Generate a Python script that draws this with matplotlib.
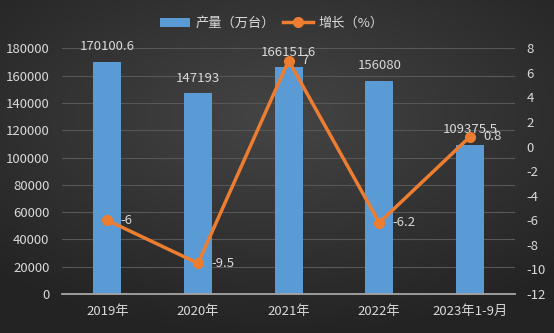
import numpy as np
import matplotlib
matplotlib.use('Agg')
from matplotlib import pyplot as plt  # noqa

plt.rcParams['font.family'] = ['Noto Sans CJK SC', 'DejaVu Sans']
plt.rcParams['axes.unicode_minus'] = False

categories = ['2019年', '2020年', '2021年', '2022年', '2023年1-9月']
output = [170100.6, 147193, 166151.6, 156080, 109375.5]
growth = [-6, -9.5, 7, -6.2, 0.8]

output_labels = ['170100.6', '147193', '166151.6', '156080', '109375.5']
growth_labels = ['-6', '-9.5', '7', '-6.2', '0.8']

TXT = '#d9d9d9'
BAR = '#5b9bd5'
LINE = '#ed7d31'

fig = plt.figure(figsize=(5.54, 3.33), dpi=100)

# dark radial background, lighter near the top middle
bg = fig.add_axes([0, 0, 1, 1], zorder=-10)
gx, gy = np.meshgrid(np.linspace(-1, 1, 200), np.linspace(-1, 1, 120))
r = np.sqrt(gx ** 2 + ((gy + 0.3) * 1.1) ** 2)
shade = np.clip(0.27 - 0.09 * r, 0.14, 0.27)
bg.imshow(np.dstack([shade] * 3), aspect='auto', extent=[0, 1, 0, 1])
bg.axis('off')

ax = fig.add_axes([0.112, 0.117, 0.818, 0.738])
ax.set_facecolor('none')

x = np.arange(len(categories))
ax.bar(x, output, width=0.31, color=BAR, zorder=2, label='产量（万台）')
ax.set_ylim(0, 180000)
ax.set_yticks(range(0, 180001, 20000))
ax.set_xlim(-0.5, len(categories) - 0.5)
ax.set_xticks(x)
ax.set_xticklabels(categories)
ax.grid(axis='y', color='#575757', linewidth=0.8, zorder=0)
for s in ['top', 'right', 'left']:
    ax.spines[s].set_visible(False)
ax.spines['bottom'].set_color('#a6a6a6')
ax.spines['bottom'].set_linewidth(1.3)
ax.tick_params(axis='both', length=0, colors=TXT, labelsize=9.5)
ax.tick_params(axis='x', pad=8)
ax.tick_params(axis='y', pad=9)

for xi, v, lab in zip(x, output, output_labels):
    ax.annotate(lab, (xi, v), xytext=(0, 15), textcoords='offset pixels',
                ha='center', va='center', color=TXT, fontsize=9.5)

ax2 = ax.twinx()
ax2.set_ylim(-12, 8)
ax2.set_yticks(range(-12, 9, 2))
ax2.plot(x, growth, color=LINE, linewidth=2.5, marker='o', markersize=7,
         zorder=3, label='增长（%）')
for s in ['top', 'right', 'left', 'bottom']:
    ax2.spines[s].set_visible(False)
ax2.tick_params(axis='y', length=0, colors=TXT, labelsize=9.5, pad=8)

for xi, v, lab in zip(x, growth, growth_labels):
    ax2.annotate(lab, (xi, v), xytext=(13, 0), textcoords='offset pixels',
                 ha='left', va='center', color=TXT, fontsize=9.5)

h1, l1 = ax.get_legend_handles_labels()
h2, l2 = ax2.get_legend_handles_labels()
leg = fig.legend(h1 + h2, l1 + l2, loc='center', bbox_to_anchor=(0.49, 0.93),
                 ncol=2, frameon=False, fontsize=9.5, handlelength=2.3,
                 columnspacing=0.6, handletextpad=0.4)
for t in leg.get_texts():
    t.set_color(TXT)

fig.savefig('out.png', dpi=100)
